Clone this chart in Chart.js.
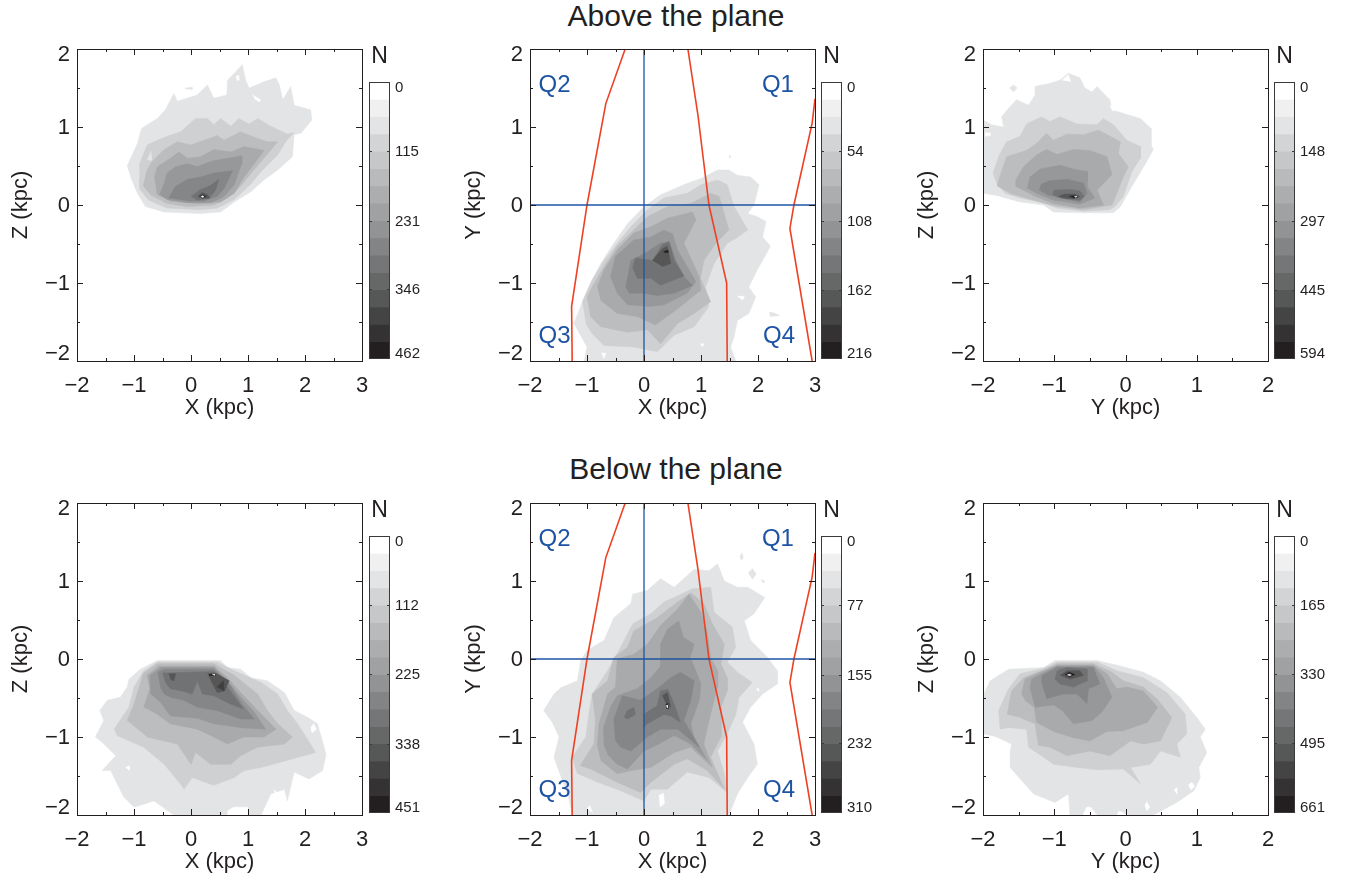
<!DOCTYPE html>
<html>
<head>
<meta charset="utf-8">
<title>Above and below the plane</title>
<script src="https://cdn.jsdelivr.net/npm/chart.js@4"></script>
<style>
  html, body { margin: 0; padding: 0; background: #fff; }
  #page { position: relative; width: 1346px; height: 877px; overflow: hidden; }
  canvas { position: absolute; }
  .head { position: absolute; left: 0; width: 1352px; text-align: center; color: #231f20;
          font: 30px/32px "Liberation Sans", Arial, sans-serif; }
</style>
</head>
<body>
<div id="page">
  <div class="head" style="top:0">Above the plane</div>
  <div class="head" style="top:453px">Below the plane</div>
</div>
<script>
// grey of each of the 16 colour bar bands, N = 0 at index 0
var bandGreys = ["#ffffff","#f0f0f0","#e3e4e5","#d3d4d5","#c6c7c8","#b9babb","#acadae","#a0a1a2",
                 "#929394","#838485","#757677","#666767","#565757","#444444","#343233","#231f20"];
// the maps themselves come out a little different from the bar
var regionGreys = ["#ffffff","#f0f0f0","#e3e4e5","#cfd0d1","#c6c7c8","#bcbdbe","#acadae","#a9aaab",
                   "#97989a","#838485","#858687","#717273","#565757","#565657","#3f3f3f","#231f20"];

// colour bar labels
var aboveXZTicks = [0, 115, 231, 346, 462];
var aboveXYTicks = [0, 54, 108, 162, 216];
var aboveYZTicks = [0, 148, 297, 445, 594];
var belowXZTicks = [0, 112, 225, 338, 451];
var belowXYTicks = [0, 77, 155, 232, 310];
var belowYZTicks = [0, 165, 330, 495, 661];

// spiral arm traces on the X-Y maps, kpc
var armLeftX  = [-0.33, -0.67, -1.0, -1.27, -1.26];
var armLeftY  = [2, 1.30, 0, -1.30, -2];
var armMidX   = [0.77, 0.945, 1.14, 1.45, 1.46];
var armMidY   = [2, 1.16, 0, -1.0, -2];
var armRightX = [3, 2.95, 2.63, 2.56, 2.95];
var armRightY = [1.36, 1.05, 0, -0.3, -2];

var quadNames = ["Q1", "Q2", "Q3", "Q4"];
var quadX = [2.35, -1.57, -1.57, 2.37];
var quadY = [1.53, 1.53, -1.68, -1.68];

// contour regions: [band, [x,y, x,y, ...]] in kpc, painted in this order
var aboveXZ = [
  [2, [-1.12,.5,-.94,.79,-.87,.98,-.59,1.11,-.45,1.22,-.3,1.43,-.24,1.33,.11,1.41,.29,1.54,.4,1.37,.63,1.41,.64,1.6,.76,1.69,.9,1.8,.96,1.6,1.02,1.5,1.28,1.58,1.49,1.63,1.55,1.54,1.61,1.35,1.75,1.52,1.81,1.28,2.1,1.22,2.12,1.09,1.93,.92,1.81,.9,1.78,.62,1.52,.45,1.28,.32,1.05,.17,.76,.04,.52,-.09,.17,-.11,-.47,-.09,-.8,-.02,-.94,.15,-1.06,.36]],
  [2, [-.11,1.5,.02,1.51,.02,1.48,-.1,1.49]],
  [0, [1.08,1.41,1.22,1.35,1.2,1.32,1.12,1.36]],
  [0, [.79,1.65,.83,1.66,.84,1.6,.8,1.6]],
  [3, [-.91,.34,-.9,.53,-.77,.77,-.59,.83,-.42,.88,-.18,.94,.08,1.11,.29,1.11,.4,1.03,.52,1.11,.7,1.01,.84,1.11,1.02,1.04,1.17,1.11,1.4,1.01,1.69,.91,1.81,.93,1.66,.81,1.52,.64,1.23,.43,1.05,.27,.76,.07,.46,-.04,.17,-.06,-.42,-.04,-.74,.06,-.91,.21]],
  [2, [-.7,.69,-.77,.58,-.68,.57]],
  [5, [-.84,.24,-.77,.45,-.68,.56,-.47,.71,-.24,.81,0,.77,.23,.83,.46,.89,.58,.83,.87,.94,1.11,.87,1.34,.81,1.52,.81,1.28,.6,1.08,.43,.87,.24,.64,.09,.4,0,-.06,-.02,-.42,.02,-.71,.13]],
  [7, [-.59,.13,-.64,.36,-.59,.49,-.36,.6,-.21,.68,-.06,.6,.17,.62,.4,.71,.7,.68,.93,.75,1.28,.7,1.11,.53,.93,.36,.76,.15,.52,.04,.11,.02,-.36,.05]],
  [8, [-.55,.13,-.47,.28,-.42,.41,-.27,.49,-.06,.53,.11,.49,.35,.56,.64,.6,.89,.63,.89,.53,.76,.26,.58,.11,.35,.03,-.06,.03,-.42,.07]],
  [10, [-.39,.09,-.27,.24,-.06,.33,.17,.36,.4,.41,.73,.44,.58,.21,.46,.11,.23,.05,-.06,.05]],
  [11, [0,.11,.17,.2,.32,.24,.49,.33,.43,.19,.32,.09,.11,.06]],
  [13, [.12,.11,.2,.16,.29,.13,.33,.09,.2,.08]],
  [15, [.15,.11,.2,.13,.26,.11,.2,.09]],
  [0, [.17,.105,.2,.12,.23,.105,.2,.095]]
];

var aboveXY = [
  [2, [-1.05,-2,-1,-1.82,-1.23,-1.52,-1.08,-1.24,-.97,-1.05,-.76,-.75,-.53,-.49,-.29,-.24,0,-.02,.29,.13,.76,.28,1,.34,1.29,.45,1.49,.45,1.64,.38,1.87,.36,2.02,.26,1.93,0,1.82,-.11,1.99,-.15,2.14,-.21,2.08,-.41,2.22,-.53,1.99,-.83,1.84,-1.05,1.96,-1.18,1.84,-1.39,1.64,-1.48,1.58,-1.69,1.52,-1.82,1.61,-2]],
  [2, [2.2,-1.37,2.31,-1.39,2.38,-1.42,2.21,-1.43]],
  [2, [1.49,.64,1.53,.62,1.49,.6]],
  [0, [1.64,-1.17,1.76,-1.17,1.73,-1.22]],
  [0, [-.75,-1.9,-.67,-1.9,-.7,-1.97]],
  [0, [.99,-1.78,1.05,-1.78,1.02,-1.82]],
  [3, [-1.08,-1.24,-.91,-.96,-.7,-.71,-.47,-.49,-.23,-.28,.06,-.06,.35,.09,.76,.15,1,.26,1.29,.32,1.46,.26,1.58,-.02,1.82,-.32,1.61,-.43,1.46,-.49,1.23,-.75,1.08,-1.05,1.14,-1.3,.88,-1.56,.53,-1.67,.23,-1.88,-.18,-1.82,-.7,-1.8,-.91,-1.65,-1.02,-1.52]],
  [5, [-1,-1.18,-.91,-1.05,-.7,-.79,-.47,-.53,-.18,-.32,.06,-.15,.41,-.02,.82,.02,1.17,.15,1.32,.11,1.49,-.32,1.26,-.49,1.05,-.71,.99,-.94,1.17,-1.24,.88,-1.39,.59,-1.52,.29,-1.78,.06,-1.6,-.29,-1.63,-.76,-1.56,-.94,-1.43]],
  [7, [-.82,-1.05,-.7,-.83,-.47,-.58,-.18,-.36,.12,-.28,.41,-.17,.85,-.09,.91,-.19,.7,-.49,.97,-.92,1,-1.09,.59,-1.33,.2,-1.54,-.12,-1.43,-.47,-1.39,-.76,-1.22]],
  [8, [-.59,-.92,-.5,-.66,-.18,-.45,.12,-.41,.35,-.32,.5,-.37,.59,-.58,.91,-.98,.76,-1.13,.35,-1.28,.12,-1.3,-.29,-1.28,-.47,-1.13]],
  [10, [-.32,-1.05,-.23,-.71,.06,-.6,.29,-.49,.44,-.47,.56,-.71,.7,-.92,.85,-1.03,.53,-1.13,.23,-1.16,0,-1.13,-.26,-1.13]],
  [11, [-.2,-.81,-.15,-.68,.15,-.71,.32,-.51,.44,-.47,.53,-.71,.7,-.91,.29,-1.03,.12,-.94,-.12,-.94]],
  [13, [.15,-.71,.32,-.56,.41,-.53,.47,-.75,.32,-.79]],
  [15, [.34,-.6,.41,-.58,.42,-.61,.36,-.61]]
];

var aboveYZ = [
  [2, [-2,.15,-2,1.09,-1.88,1.03,-1.71,1,-1.74,1.13,-1.64,1.24,-1.53,1.35,-1.36,1.28,-1.27,1.41,-1.27,1.52,-1.06,1.56,-.92,1.6,-.8,1.69,-.64,1.63,-.57,1.5,-.47,1.45,-.4,1.52,-.22,1.35,-.19,1.22,.02,1.16,.21,1.11,.36,.98,.36,.77,.39,.71,.28,.53,.09,.24,-.07,-.02,-.17,-.1,-.59,-.1,-1.01,-.09,-1.15,0,-1.48,.04,-1.76,.11]],
  [2, [-1.63,1.5,-1.57,1.54,-1.52,1.5,-1.57,1.45]],
  [0, [-.89,1.6,-.8,1.67,-.77,1.58]],
  [0, [-.22,1.28,-.1,1.21,-.19,1.21]],
  [0, [-1.97,.93,-1.9,.92,-1.9,.89,-1.97,.88]],
  [3, [-1.8,.26,-1.86,.41,-1.77,.64,-1.67,.81,-1.48,.88,-1.39,1.04,-1.18,1.13,-1.06,1.07,-.92,1.13,-.68,1.04,-.4,1.03,-.31,1.11,-.17,1.03,.02,.83,.21,.75,.21,.6,.09,.43,-.03,.11,-.15,-.02,-.22,-.06,-.59,-.08,-.96,-.04,-1.15,.03,-1.48,.09,-1.69,.15]],
  [5, [-1.8,.24,-1.78,.32,-1.67,.62,-1.39,.7,-1.25,.79,-1.11,.92,-1.01,.83,-.82,.91,-.59,.9,-.38,.96,-.07,.81,-.1,.66,.04,.49,-.03,.36,-.19,0,-.59,-.06,-1.01,-.01,-1.29,.06,-1.62,.15]],
  [7, [-1.55,.24,-1.54,.32,-1.43,.49,-1.25,.64,-1.11,.71,-.96,.65,-.73,.71,-.5,.7,-.26,.62,-.19,.39,-.4,.19,-.31,0,-.64,-.04,-1.01,.02,-1.29,.12]],
  [8, [-1.38,.21,-1.34,.36,-1.2,.46,-.92,.51,-.68,.45,-.53,.43,-.54,.24,-.43,.09,-.64,.01,-1.01,.06,-1.25,.15]],
  [10, [-1.21,.19,-1.18,.27,-1.06,.31,-.82,.33,-.59,.28,-.54,.15,-.64,.04,-.92,.09,-1.1,.13]],
  [11, [-1.02,.13,-1,.19,-.78,.2,-.64,.18,-.58,.11,-.64,.06,-.92,.09]],
  [13, [-.94,.11,-.85,.14,-.71,.14,-.64,.11,-.73,.08,-.87,.09]],
  [15, [-.79,.11,-.71,.12,-.67,.1,-.73,.09]],
  [0, [-.72,.11,-.68,.11,-.7,.095]]
];

var belowXZ = [
  [2, [-1.68,-1,-1.53,-.79,-1.6,-.66,-1.47,-.53,-1.24,-.49,-1.12,-.36,-1.09,-.26,-.89,-.13,-.59,-.02,.52,-.02,.64,-.11,.87,-.13,1.05,-.24,1.34,-.28,1.64,-.43,1.81,-.66,2.05,-.75,2.22,-.83,2.37,-1.22,2.31,-1.43,2.07,-1.54,1.81,-1.45,1.69,-1.82,1.64,-1.67,1.4,-1.73,1.23,-2,-.3,-2,-.65,-1.82,-1,-1.9,-1.18,-1.77,-1.41,-1.43,-1.56,-1.43,-1.32,-1.24,-1.53,-1.09]],
  [0, [.64,-1.95,.75,-1.9,.99,-1.9,.99,-2,.64,-2]],
  [0, [1.29,-.49,1.43,-.5,1.41,-.58,1.3,-.55]],
  [0, [2.1,-.88,2.15,-.83,2.2,-.9,2.12,-.95]],
  [0, [-1.15,-1.39,-1.08,-1.37,-1.08,-1.43]],
  [0, [1.45,-1.67,1.55,-1.75,1.6,-1.85,1.5,-1.8]],
  [3, [-1.35,-.9,-1.09,-.62,-1,-.36,-.83,-.15,-.59,-.04,.46,-.04,.76,-.15,1.23,-.3,1.52,-.45,1.69,-.66,1.87,-.83,2.19,-1.2,1.93,-1.25,1.23,-1.39,.93,-1.43,.76,-1.52,.4,-1.62,.02,-1.52,-.12,-1.67,-.21,-1.58,-.47,-1.35,-.83,-1.13,-1.3,-.98]],
  [5, [-1.12,-.79,-1,-.58,-.84,-.19,-.59,-.06,.4,-.06,.76,-.21,1.17,-.45,1.34,-.66,1.52,-.83,1.78,-1,1.64,-1.09,1.17,-1.13,.87,-1.24,.7,-1.35,.35,-1.35,.08,-1.2,0,-1.35,-.24,-1.09,-.77,-1]],
  [7, [-.83,-.62,-.72,-.38,-.77,-.21,-.56,-.09,.4,-.09,.64,-.24,.87,-.43,1.17,-.66,1.49,-.9,1.28,-1,.93,-1,.64,-1.09,.4,-1,.11,-.9,-.36,-.83,-.59,-.71]],
  [8, [-.71,-.45,-.72,-.21,-.53,-.11,.4,-.11,.64,-.28,.87,-.49,1.11,-.68,1.31,-.9,.87,-.88,.4,-.83,.11,-.76,-.36,-.73,-.53,-.56]],
  [10, [-.53,-.38,-.58,-.17,-.47,-.13,.4,-.13,.67,-.32,.9,-.58,1.11,-.77,.87,-.77,.46,-.66,.11,-.62,-.12,-.53,-.36,-.49,-.47,-.45]],
  [11, [-.5,-.18,.4,-.16,.64,-.36,.92,-.64,.7,-.58,.4,-.47,.2,-.45,.11,-.28,.02,-.45,-.15,-.41,-.36,-.38,-.45,-.3]],
  [13, [-.39,-.19,-.27,-.19,-.3,-.28,-.36,-.26]],
  [13, [.29,-.19,.43,-.18,.67,-.28,.59,-.41,.46,-.43,.35,-.28]],
  [14, [.46,-.36,.57,-.28,.58,-.41]],
  [15, [.32,-.2,.4,-.19,.43,-.21,.32,-.21]],
  [0, [.37,-.195,.41,-.195,.41,-.21]]
];

var belowXY = [
  [2, [-1.26,-2,-1.33,-1.75,-1.46,-1.5,-1.58,-1.26,-1.49,-1,-1.61,-.81,-1.76,-.66,-1.58,-.45,-1.46,-.37,-1.17,-.28,-1.11,-.02,-1,.11,-.7,.24,-.53,.53,-.23,.71,-.2,.83,.06,.88,.29,1.03,.53,.92,.88,1.15,1.14,1.13,1.29,1.22,1.41,1,1.64,.92,1.82,.92,2.12,.79,1.93,.58,1.76,.49,1.87,.24,2.17,.02,2.34,-.15,2.34,-.32,2.08,-.45,1.87,-.62,1.73,-.81,1.93,-1.09,1.99,-1.35,1.82,-1.52,1.64,-1.73,1.49,-2]],
  [2, [1.83,1.1,1.9,1.16,1.97,1.09,1.9,1.02]],
  [2, [1.68,1.31,1.72,1.36,1.74,1.3,1.71,1.26]],
  [2, [2.05,1.02,2.12,1,2.09,.97]],
  [0, [.26,-1.75,.34,-1.72,.36,-1.85,.28,-1.9]],
  [0, [-1,-1.92,-.95,-1.88,-.9,-1.97]],
  [0, [1.6,-.45,1.68,-.42,1.66,-.53,1.6,-.55]],
  [0, [1.97,-.38,2.02,-.38,2.01,-.42]],
  [3, [-1.17,-1.47,-1.26,-1.26,-1.02,-1,-.97,-.71,-.91,-.45,-.64,-.15,-.44,.11,-.2,.45,.12,.58,.35,.73,.59,.81,.85,.9,1.17,.92,1.23,.6,1.55,.41,1.61,.15,1.46,-.04,1.64,-.17,1.9,-.3,1.67,-.49,1.61,-.71,1.46,-.96,1.29,-1.18,1.41,-1.47,1.46,-1.71,1.14,-1.52,.76,-1.45,.41,-1.67,.12,-1.67,0,-1.82,-.41,-1.69,-.88,-1.56]],
  [5, [-1.12,-1.37,-.88,-1.09,-.85,-.79,-.91,-.45,-.64,-.28,-.53,.02,-.29,.15,-.18,.36,.23,.53,.59,.73,.82,.85,1.05,.71,1.2,.45,1.41,.19,1.35,-.06,1.46,-.24,1.46,-.41,1.35,-.62,1.35,-1,1.17,-1.26,1.41,-1.67,1.11,-1.43,.76,-1.28,.53,-1.35,.12,-1.58,-.06,-1.71,-.47,-1.58,-.88,-1.43]],
  [7, [-.82,-1.11,-.79,-.83,-.64,-.45,-.5,-.36,-.47,0,-.18,.06,.06,.19,.29,.43,.59,.64,.79,.83,1,.6,1.11,.36,1.17,.02,1.29,-.15,1.29,-.36,1.14,-.79,1.05,-1.09,1.2,-1.39,.82,-1.13,.53,-1.2,.12,-1.39,-.23,-1.43,-.47,-1.47,-.76,-1.3]],
  [8, [-.7,-1.11,-.71,-.88,-.59,-.62,-.47,-.47,-.12,-.38,.12,-.24,.29,-.09,.29,.19,.41,.38,.61,.49,.69,.28,.88,.19,.81,.02,.91,-.15,1,-.32,.97,-.53,.82,-.83,.88,-1,1.11,-1.3,.82,-1.09,.53,-.98,.26,-1.09,0,-1.18,-.29,-1.41,-.47,-1.35,-.64,-1.22]],
  [10, [-.5,-1.05,-.53,-.77,-.38,-.47,-.06,-.53,.23,-.38,.47,-.24,.64,-.17,.88,-.28,.82,-.53,.7,-.79,.97,-1.13,.59,-.9,.29,-.9,.06,-1,-.23,-1.18,-.41,-1.13]],
  [11, [-.35,-.75,-.29,-.66,-.18,-.62,-.15,-.71,-.29,-.77]],
  [11, [-.01,-.71,.23,-.6,.29,-.41,.42,-.39,.53,-.58,.64,-.81,.47,-.73,.35,-.71,.06,-.83,-.01,-.88]],
  [13, [.32,-.47,.41,-.43,.47,-.62,.38,-.56]],
  [15, [.38,-.58,.42,-.57,.43,-.64,.39,-.63]],
  [0, [.39,-.6,.41,-.59,.41,-.63]]
];

var belowYZ = [
  [2, [-2,-.96,-2,-.47,-1.9,-.28,-1.64,-.13,-1.15,-.11,-.99,-.02,-.4,-.02,-.07,-.09,.25,-.17,.49,-.28,.77,-.49,1,-.75,1.12,-.9,1.05,-1,1.14,-1.2,1.03,-1.39,1.05,-1.52,.96,-1.69,.72,-1.84,.39,-2,-.78,-2,-.8,-1.73,-.99,-1.84,-1.29,-1.73,-1.62,-1.39,-1.62,-1.2,-1.6,-1.09,-1.81,-1]],
  [0, [-.55,-1.9,-.49,-1.9,-.4,-2,-.6,-2]],
  [0, [-.1,-1.95,-.03,-1.97,.0,-2,-.12,-2]],
  [0, [.27,-1.88,.3,-1.83,.34,-1.9,.3,-1.95]],
  [0, [.68,-1.68,.72,-1.65,.72,-1.73]],
  [0, [.88,-1.62,.93,-1.58,.97,-1.63,.92,-1.68]],
  [0, [.68,-.96,.73,-.9,.72,-1]],
  [3, [-1.76,-.9,-1.78,-.66,-1.64,-.38,-1.48,-.19,-1.15,-.12,-.96,-.04,-.4,-.04,-.12,-.15,.25,-.24,.58,-.43,.84,-.71,.86,-.96,.72,-1.09,.77,-1.26,.49,-1.18,.35,-1.35,.07,-1.39,.21,-1.6,-.03,-1.41,-.4,-1.42,-.68,-1.39,-1.01,-1.35,-1.18,-1.24,-1.36,-1.13,-1.39,-.9,-1.62,-.88]],
  [5, [-1.66,-.71,-1.6,-.41,-1.43,-.24,-1.15,-.14,-.96,-.06,-.45,-.06,-.19,-.17,-.03,-.28,.25,-.36,.44,-.51,.65,-.75,.49,-1.05,.25,-1.09,.07,-1.05,-.22,-1.24,-.5,-1.18,-.82,-1.24,-1.06,-1.13,-1.22,-1.11,-1.27,-.83,-1.48,-.75]],
  [7, [-1.46,-.45,-1.41,-.26,-1.2,-.17,-.96,-.08,-.45,-.08,-.26,-.19,-.12,-.38,.02,-.36,.25,-.41,.45,-.62,.31,-.81,-.03,-.92,-.26,-.93,-.5,-1.05,-.73,-1.01,-1.01,-.93,-1.25,-.81,-1.28,-.62,-1.41,-.53]],
  [8, [-1.34,-.38,-1.32,-.26,-1.18,-.19,-.96,-.09,-.45,-.09,-.31,-.24,-.19,-.49,-.33,-.68,-.47,-.79,-.73,-.83,-.89,-.66,-1.01,-.59,-1.27,-.62]],
  [10, [-1.18,-.3,-1.17,-.21,-.96,-.11,-.45,-.11,-.36,-.32,-.52,-.38,-.54,-.57,-.68,-.45,-.87,-.45,-1.11,-.51]],
  [11, [-.99,-.26,-.96,-.15,-.82,-.11,-.54,-.13,-.54,-.28,-.73,-.36,-.92,-.32]],
  [13, [-.92,-.21,-.82,-.15,-.64,-.15,-.59,-.21,-.78,-.26]],
  [15, [-.85,-.2,-.79,-.17,-.71,-.2,-.79,-.23]],
  [0, [-.82,-.205,-.79,-.195,-.76,-.205,-.79,-.215]]
];

var ink = "#231f20";
var mapFont = '"Liberation Sans", Arial, sans-serif';
var armRed = "#ee4124";
var quadBlue = "#1d53a3";

function pairs(xs, ys) {
  return xs.map(function (x, i) { return { x: x, y: ys[i] }; });
}

function flatPoints(flat) {
  var out = [];
  for (var i = 0; i < flat.length; i += 2) out.push({ x: flat[i], y: flat[i + 1] });
  return out;
}

function minus(v) { return String(v).replace("-", "\u2212"); }

// box round the map with ticks pointing inwards on all four sides,
// y labels (end labels sit inside the box height) and quadrant names
var frameTicks = {
  id: "frameTicks",
  afterDatasetsDraw: function (chart) {
    var a = chart.chartArea, c = chart.ctx, xs = chart.scales.x, ys = chart.scales.y;
    c.save();
    c.strokeStyle = ink;
    c.lineWidth = 1;
    c.strokeRect(a.left + 0.5, a.top + 0.5, a.width, a.height);
    c.beginPath();
    for (var v = xs.min; v <= xs.max; v += 0.5) {
      var px = Math.round(xs.getPixelForValue(v)) + 0.5;
      var len = v % 1 === 0 ? 6 : 3;
      c.moveTo(px, a.bottom); c.lineTo(px, a.bottom - len);
      c.moveTo(px, a.top); c.lineTo(px, a.top + len);
    }
    for (var w = ys.min; w <= ys.max; w += 0.5) {
      var py = Math.round(ys.getPixelForValue(w)) + 0.5;
      var l2 = w % 1 === 0 ? 6 : 3;
      c.moveTo(a.left, py); c.lineTo(a.left + l2, py);
      c.moveTo(a.right, py); c.lineTo(a.right - l2, py);
    }
    c.stroke();
    c.fillStyle = ink;
    c.font = "22px " + mapFont;
    c.textAlign = "right";
    c.textBaseline = "middle";
    ys.ticks.forEach(function (t) {
      var off = t.value === ys.max ? 6 : (t.value === ys.min ? -7 : 1);
      c.fillText(minus(t.value), a.left - 7, ys.getPixelForValue(t.value) + off);
    });
    if (chart.options.plugins.frameTicks.quads) {
      c.fillStyle = quadBlue;
      c.font = "24px " + mapFont;
      c.textAlign = "center";
      quadNames.forEach(function (q, i) {
        c.fillText(q, xs.getPixelForValue(quadX[i]), ys.getPixelForValue(quadY[i]));
      });
    }
    c.restore();
  }
};

// frame, small ticks, labels and the N heading of the colour bar
var barFrame = {
  id: "barFrame",
  afterDatasetsDraw: function (chart) {
    var a = chart.chartArea, c = chart.ctx, ys = chart.scales.y;
    c.save();
    c.strokeStyle = "#3a3a3a";
    c.lineWidth = 1;
    c.strokeRect(a.left + 0.5, a.top + 0.5, a.width - 1, a.height - 1);
    c.fillStyle = ink;
    c.font = "23px " + mapFont;
    c.textAlign = "center";
    c.textBaseline = "middle";
    c.fillText("N", (a.left + a.right) / 2, a.top - 25);
    c.font = "15px " + mapFont;
    c.textAlign = "left";
    ys.ticks.forEach(function (t, i) {
      var py = Math.round(ys.getPixelForValue(t.value)) + 0.5;
      var last = ys.ticks.length - 1;
      if (i > 0 && i < last) {
        c.beginPath();
        c.moveTo(a.left, py); c.lineTo(a.left + 3, py);
        c.moveTo(a.right, py); c.lineTo(a.right - 3, py);
        c.stroke();
      }
      var off = i === 0 ? 5 : (i === last ? -6 : 0);
      c.fillText(String(t.value), a.right + 5, py + off);
    });
    c.restore();
  }
};

function addCanvas(left, top, w, h) {
  var cv = document.createElement("canvas");
  cv.width = w;
  cv.height = h;
  cv.style.left = left + "px";
  cv.style.top = top + "px";
  cv.style.width = w + "px";
  cv.style.height = h + "px";
  document.getElementById("page").appendChild(cv);
  return cv;
}

function drawMap(left, top, regions, xName, yName, xMax, withArms) {
  var sets = regions.map(function (r, i) {
    return {
      data: flatPoints(r[1]),
      showLine: true,
      fill: "shape",
      backgroundColor: regionGreys[r[0]],
      borderColor: regionGreys[r[0]],
      borderWidth: 0.5,
      pointRadius: 0,
      order: 1000 - i
    };
  });
  if (withArms) {
    [[armLeftX, armLeftY], [armMidX, armMidY], [armRightX, armRightY]].forEach(function (arm) {
      sets.push({ data: pairs(arm[0], arm[1]), showLine: true, borderColor: armRed, borderWidth: 1.6, pointRadius: 0, order: 1 });
    });
    sets.push({ data: pairs([-2, xMax], [0, 0]), showLine: true, borderColor: quadBlue, borderWidth: 1.3, pointRadius: 0, order: 0 });
    sets.push({ data: pairs([0, 0], [-2, 2]), showLine: true, borderColor: quadBlue, borderWidth: 1.3, pointRadius: 0, order: 0 });
  }
  var labelFont = { family: mapFont, size: 22 };
  new Chart(addCanvas(left - 72, top - 30, 387, 412), {
    type: "scatter",
    data: { datasets: sets },
    plugins: [frameTicks],
    options: {
      responsive: false,
      animation: false,
      events: [],
      layout: { padding: { left: 0, right: 30, top: 30, bottom: 0 } },
      plugins: { legend: { display: false }, tooltip: { enabled: false }, frameTicks: { quads: withArms } },
      scales: {
        x: {
          type: "linear", min: -2, max: xMax,
          afterFit: function (s) { s.height = 70; },
          grid: { display: false, drawTicks: false },
          border: { display: false },
          ticks: { stepSize: 1, padding: 12, color: ink, font: labelFont, maxRotation: 0, callback: minus },
          title: { display: true, text: xName, color: ink, font: labelFont, padding: { top: 0, bottom: 10 } }
        },
        y: {
          type: "linear", min: -2, max: 2,
          afterFit: function (s) { s.width = 72; },
          grid: { display: false, drawTicks: false },
          border: { display: false },
          ticks: { stepSize: 1, display: false },
          title: { display: true, text: yName, color: ink, font: labelFont, padding: { top: 3, bottom: 0 } }
        }
      }
    }
  });
}

function drawBar(left, top, tickValues) {
  var topN = tickValues[tickValues.length - 1];
  var sets = bandGreys.map(function (g) {
    return { data: [topN / bandGreys.length], backgroundColor: g, borderWidth: 0, barPercentage: 1, categoryPercentage: 1 };
  });
  new Chart(addCanvas(left - 38, top - 40, 97, 327), {
    type: "bar",
    data: { labels: ["N"], datasets: sets },
    plugins: [barFrame],
    options: {
      responsive: false,
      animation: false,
      events: [],
      layout: { padding: { left: 38, right: 0, top: 40, bottom: 10 } },
      plugins: { legend: { display: false }, tooltip: { enabled: false } },
      scales: {
        x: { display: false, stacked: true },
        y: {
          stacked: true, reverse: true, position: "right", min: 0, max: topN,
          afterFit: function (s) { s.width = 38; },
          afterBuildTicks: function (s) { s.ticks = tickValues.map(function (v) { return { value: v }; }); },
          grid: { display: false, drawTicks: false },
          border: { display: false },
          ticks: { display: false }
        }
      }
    }
  });
}

var plotLefts = [77, 530, 983];
var plotTops = [49, 503];

drawMap(plotLefts[0], plotTops[0], aboveXZ, "X (kpc)", "Z (kpc)", 3, false);
drawMap(plotLefts[1], plotTops[0], aboveXY, "X (kpc)", "Y (kpc)", 3, true);
drawMap(plotLefts[2], plotTops[0], aboveYZ, "Y (kpc)", "Z (kpc)", 2, false);
drawMap(plotLefts[0], plotTops[1], belowXZ, "X (kpc)", "Z (kpc)", 3, false);
drawMap(plotLefts[1], plotTops[1], belowXY, "X (kpc)", "Y (kpc)", 3, true);
drawMap(plotLefts[2], plotTops[1], belowYZ, "Y (kpc)", "Z (kpc)", 2, false);

drawBar(369, 82, aboveXZTicks);
drawBar(821, 82, aboveXYTicks);
drawBar(1274, 82, aboveYZTicks);
drawBar(369, 536, belowXZTicks);
drawBar(821, 536, belowXYTicks);
drawBar(1274, 536, belowYZTicks);
</script>
</body>
</html>
